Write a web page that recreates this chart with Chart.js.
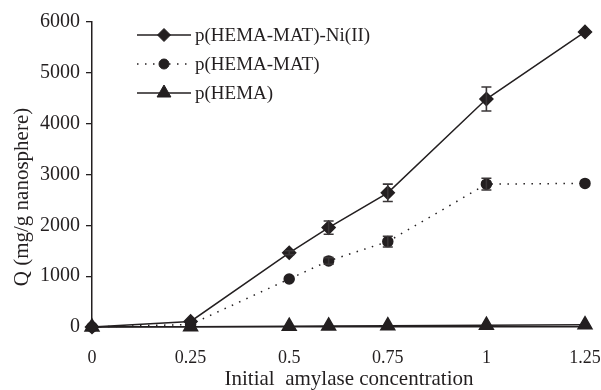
<!DOCTYPE html>
<html>
<head>
<meta charset="utf-8">
<script src="https://cdn.jsdelivr.net/npm/chart.js@4/dist/chart.umd.min.js"></script>
<style>
  html, body { margin: 0; padding: 0; background: #fff; }
  #wrap { width: 601px; height: 390px; }
</style>
</head>
<body>
<div id="wrap"><canvas id="c" width="601" height="390"></canvas></div>
<script>
// Initial amylase concentration (x) and adsorbed amount Q (mg/g nanosphere)
const concentrations = [0, 0.25, 0.5, 0.6, 0.75, 1, 1.25];
const qNi   = [0, 110, 1460, 1955, 2640, 4485, 5805];
const qNiErr = [0, 0, 40, 130, 170, 235, 0];
const qMat  = [0, 50, 945, 1300, 1680, 2810, 2825];
const qMatErr = [0, 0, 0, 65, 105, 115, 0];
const qHema = [0, 5, 15, 20, 25, 35, 45];

const seriesNames = ['p(HEMA-MAT)-Ni(II)', 'p(HEMA-MAT)', 'p(HEMA)'];
const xTickValues = [0, 0.25, 0.5, 0.75, 1, 1.25];
const xTickLabels = ['0', '0.25', '0.5', '0.75', '1', '1.25'];
const yTickValues = [0, 1000, 2000, 3000, 4000, 5000, 6000];
const yTickLabels = ['0', '1000', '2000', '3000', '4000', '5000', '6000'];
const xTitle = 'Initial  amylase concentration';
const yTitle = 'Q (mg/g nanosphere)';

const INK = '#231f20';
const SERIF = '"Liberation Serif", "Times New Roman", serif';

function pts(ys, errs) {
  return concentrations.map((x, i) => ({ x: x, y: ys[i], err: errs ? errs[i] : 0 }));
}

// vertical error bars with caps, positioned through the chart scales
const errorBars = {
  id: 'errorBars',
  afterDatasetsDraw(chart) {
    const { ctx, scales: { x, y } } = chart;
    ctx.save();
    ctx.strokeStyle = '#3a3637';
    ctx.lineWidth = 1.6;
    chart.data.datasets.forEach(ds => {
      ds.data.forEach(p => {
        if (!p.err) return;
        const px = x.getPixelForValue(p.x);
        const top = y.getPixelForValue(p.y + p.err);
        const bot = y.getPixelForValue(p.y - p.err);
        ctx.beginPath();
        ctx.moveTo(px, top); ctx.lineTo(px, bot);
        ctx.moveTo(px - 5, top); ctx.lineTo(px + 5, top);
        ctx.moveTo(px - 5, bot); ctx.lineTo(px + 5, bot);
        ctx.stroke();
      });
    });
    ctx.restore();
  }
};

// legend drawn inside the plot, each entry a short line with its marker
const innerLegend = {
  id: 'innerLegend',
  afterDraw(chart) {
    const { ctx } = chart;
    const x0 = 137, x1 = 191, rowY = [35, 64, 93];
    ctx.save();
    chart.data.datasets.forEach((ds, i) => {
      const yy = rowY[i];
      ctx.strokeStyle = ds.borderColor;
      ctx.lineWidth = ds.borderWidth;
      ctx.setLineDash(ds.borderDash || []);
      ctx.beginPath();
      ctx.moveTo(x0, yy); ctx.lineTo(x1, yy);
      ctx.stroke();
      ctx.setLineDash([]);
      ctx.fillStyle = ds.pointBackgroundColor;
      ctx.strokeStyle = ds.pointBorderColor;
      ctx.lineWidth = 1;
      Chart.helpers.drawPoint(ctx, { pointStyle: ds.pointStyle, radius: ds.pointRadius, rotation: 0, borderWidth: 1 }, (x0 + x1) / 2, yy);
      ctx.fillStyle = INK;
      ctx.font = '19px ' + SERIF;
      ctx.textAlign = 'left';
      ctx.textBaseline = 'middle';
      ctx.fillText(ds.label, x1 + 4, yy + 1);
    });
    ctx.restore();
  }
};

// axis titles
const axisTitles = {
  id: 'axisTitles',
  afterDraw(chart) {
    const { ctx } = chart;
    ctx.save();
    ctx.fillStyle = INK;
    ctx.font = '21px ' + SERIF;
    ctx.textAlign = 'center';
    ctx.textBaseline = 'middle';
    ctx.fillText(xTitle, 349, 379);
    ctx.translate(22, 197);
    ctx.rotate(-Math.PI / 2);
    ctx.fillText(yTitle, 0, 0);
    ctx.restore();
  }
};

const common = {
  borderColor: INK,
  pointBackgroundColor: INK,
  pointBorderColor: INK,
  borderWidth: 1.5,
  tension: 0,
  fill: false,
  clip: false
};

new Chart(document.getElementById('c'), {
  type: 'line',
  data: {
    datasets: [
      Object.assign({}, common, { label: seriesNames[0], data: pts(qNi, qNiErr), pointStyle: 'rectRot', pointRadius: 6.5 }),
      Object.assign({}, common, { label: seriesNames[1], data: pts(qMat, qMatErr), pointStyle: 'circle', pointRadius: 5, borderDash: [1.5, 6.5], borderWidth: 1.5 }),
      Object.assign({}, common, { label: seriesNames[2], data: pts(qHema), pointStyle: 'triangle', pointRadius: 8 })
    ]
  },
  options: {
    responsive: false,
    animation: false,
    events: [],
    layout: { padding: { top: 22, right: 16, left: 0, bottom: 0 } },
    plugins: { legend: { display: false }, tooltip: { enabled: false } },
    scales: {
      x: {
        type: 'linear',
        min: 0,
        max: 1.25,
        afterBuildTicks: s => { s.ticks = xTickValues.map(v => ({ value: v })); },
        afterFit: s => { s.height = 63; s.paddingLeft = 0; s.paddingRight = 0; },
        grid: { display: false },
        border: { display: true, color: INK, width: 1.5 },
        ticks: {
          color: INK,
          font: { family: SERIF, size: 18 },
          padding: 12,
          maxRotation: 0,
          callback: (v, i) => xTickLabels[i]
        }
      },
      y: {
        type: 'linear',
        min: 0,
        max: 6000,
        afterBuildTicks: s => { s.ticks = yTickValues.map(v => ({ value: v })); },
        afterFit: s => { s.width = 92; s.paddingTop = 0; s.paddingBottom = 0; },
        grid: { drawOnChartArea: false, drawTicks: true, tickLength: 6, color: INK, lineWidth: 1.3 },
        border: { display: true, color: INK, width: 1.5 },
        ticks: {
          color: INK,
          font: { family: SERIF, size: 20 },
          padding: 6,
          callback: (v, i) => yTickLabels[i]
        }
      }
    }
  },
  plugins: [errorBars, innerLegend, axisTitles]
});
</script>
</body>
</html>
